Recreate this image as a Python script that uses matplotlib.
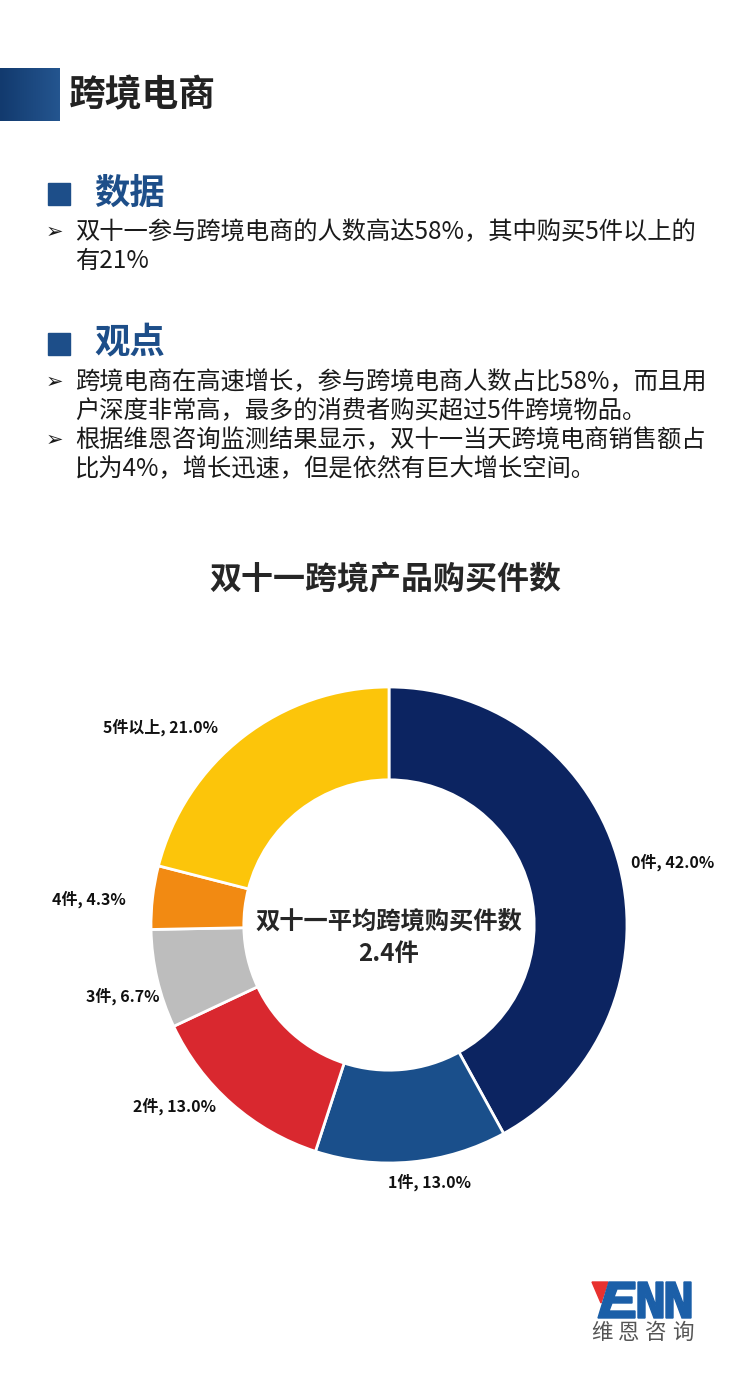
import numpy as np
import matplotlib
matplotlib.use("Agg")
import matplotlib.pyplot as plt
from matplotlib.patches import Rectangle, Polygon

plt.rcParams['font.family'] = ['Noto Sans CJK SC', 'DejaVu Sans']

# chart data
categories = ['0件', '1件', '2件', '3件', '4件', '5件以上']
shares = [42.0, 13.0, 13.0, 6.7, 4.3, 21.0]
colors = ['#0c2461', '#1a4f8b', '#d9282f', '#bdbdbd', '#f28a12', '#fcc50a']
# label spots, in units of the outer radius
label_pos = [(1.19, 0.265), (0.17, -1.08), (-0.90, -0.76),
             (-1.12, -0.30), (-1.26, 0.11), (-0.96, 0.83)]

page_title = '跨境电商'
sec1_title = '数据'
sec1_lines = [('➢', '双十一参与跨境电商的人数高达58%，其中购买5件以上的'),
              ('', '有21%')]
sec2_title = '观点'
sec2_lines = [('➢', '跨境电商在高速增长，参与跨境电商人数占比58%，而且用'),
              ('', '户深度非常高，最多的消费者购买超过5件跨境物品。'),
              ('➢', '根据维恩咨询监测结果显示，双十一当天跨境电商销售额占'),
              ('', '比为4%，增长迅速，但是依然有巨大增长空间。')]
chart_title = '双十一跨境产品购买件数'
center_text = ['双十一平均跨境购买件数', '2.4件']
logo_name = '维恩咨询'

W, H = 756, 1399
fig = plt.figure(figsize=(W / 100, H / 100), dpi=100)
fig.patch.set_facecolor('white')

# page overlay in pixel coordinates
pg = fig.add_axes([0, 0, 1, 1])
pg.axis('off')

blue = '#1d4e89'
# header block with a slight gradient
grad = np.linspace(0, 1, 60).reshape(1, -1)
pg.imshow(grad, extent=[0, 60, 121, 68], cmap=matplotlib.colors.LinearSegmentedColormap.from_list(
    'h', ['#123a6e', '#24558f']), aspect='auto', zorder=1)
pg.set_xlim(0, W)
pg.set_ylim(H, 0)
pg.text(69, 96, page_title, fontsize=26.5, fontweight='bold', color='#222222', va='center')

# section 1
pg.add_patch(Rectangle((48, 183), 22, 22, color=blue))
pg.text(94, 193, sec1_title, fontsize=25.5, fontweight='bold', color=blue, va='center')
y = 232
for bullet, line in sec1_lines:
    if bullet:
        pg.text(46, y, bullet, fontsize=15, fontweight='bold', color='#1a1a1a', va='center',
                family='DejaVu Sans')
    pg.text(75, y, line, fontsize=17.5, color='#1a1a1a', va='center')
    y += 29

# section 2
pg.add_patch(Rectangle((48, 333), 22, 22, color=blue))
pg.text(94, 342, sec2_title, fontsize=25.5, fontweight='bold', color=blue, va='center')
y = 382
for bullet, line in sec2_lines:
    if bullet:
        pg.text(46, y, bullet, fontsize=15, fontweight='bold', color='#1a1a1a', va='center',
                family='DejaVu Sans')
    pg.text(75, y, line, fontsize=17.5, color='#1a1a1a', va='center')
    y += 29

pg.text(385, 580, chart_title, fontsize=23, fontweight='bold', color='#262626',
        ha='center', va='center')

# logo
logo_red = [(592, 1282), (608, 1282), (601, 1303)]
logo_e = [(609, 1282), (635, 1282), (635, 1289), (617, 1289), (614, 1297), (632, 1297),
          (632, 1303), (612, 1303), (609, 1311), (635, 1311), (635, 1318), (598, 1318)]
logo_n = [(0, 36), (0, 0), (9, 0), (18, 24), (18, 0), (25, 0), (25, 36), (16, 36), (7, 12), (7, 36)]
pg.add_patch(Polygon(logo_red, closed=True, color='#e8312f'))
pg.add_patch(Polygon(logo_e, closed=True, color='#1b5fa8'))
for x0 in (638, 666):
    pg.add_patch(Polygon([(x0 + a, 1282 + b) for a, b in logo_n], closed=True, color='#1b5fa8'))
for i, ch in enumerate(logo_name):
    pg.text(602 + i * 27, 1333, ch, fontsize=15.5, color='#555555', ha='center', va='center')

# donut chart
cx, cy, R = 389, 925, 238
half = 360
ax = fig.add_axes([(cx - half) / W, (H - cy - half) / H, 2 * half / W, 2 * half / H])
ax.pie(shares, colors=colors, startangle=90, counterclock=False, radius=1,
       wedgeprops=dict(width=0.39, edgecolor='white', linewidth=2))
ax.set_aspect('auto')
ax.set_xlim(-half / R, half / R)
ax.set_ylim(-half / R, half / R)
ax.axis('off')
for cat, val, (lx, ly) in zip(categories, shares, label_pos):
    ax.text(lx, ly, f'{cat}, {val:.1f}%', fontsize=11.5, fontweight='bold',
            color='#111111', ha='center', va='center')
ax.text(0, 0.01, center_text[0], fontsize=17.5, fontweight='bold', color='#262626',
        ha='center', va='center')
ax.text(0, -0.12, center_text[1], fontsize=17.5, fontweight='bold', color='#262626',
        ha='center', va='center')

fig.savefig('out.png', dpi=100, facecolor='white')
